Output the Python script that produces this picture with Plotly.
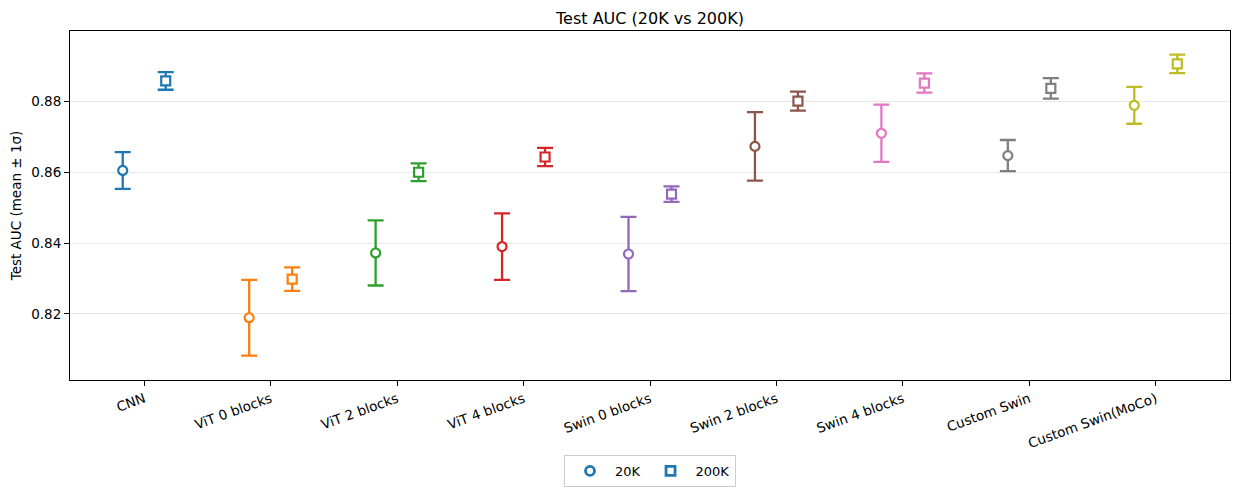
import plotly.graph_objects as go

categories = ["CNN", "ViT 0 blocks", "ViT 2 blocks", "ViT 4 blocks", "Swin 0 blocks",
              "Swin 2 blocks", "Swin 4 blocks", "Custom Swin", "Custom Swin(MoCo)"]
mean_20k = [0.8605, 0.8189, 0.8372, 0.8390, 0.8369, 0.8673, 0.8710, 0.8647, 0.8789]
std_20k = [0.0052, 0.0107, 0.0092, 0.0094, 0.0105, 0.0097, 0.0081, 0.0044, 0.0052]
mean_200k = [0.8858, 0.8298, 0.8600, 0.8643, 0.8538, 0.8801, 0.8852, 0.8837, 0.8906]
std_200k = [0.0025, 0.0033, 0.0025, 0.0026, 0.0022, 0.0027, 0.0027, 0.0029, 0.0026]
colors = ["#1f77b4", "#ff7f0e", "#2ca02c", "#d62728", "#9467bd",
          "#8c564b", "#e377c2", "#7f7f7f", "#bcbd22"]
series = ["20K", "200K"]

offset = 0.17
FONT = "DejaVu Sans"
# the page body has an 8px margin on every side, so the figure is 16px smaller
W, H = 1224, 481

fig = go.Figure()
for i, cat in enumerate(categories):
    for m, s, sym, dx in [(mean_20k, std_20k, "circle", -offset), (mean_200k, std_200k, "square", offset)]:
        fig.add_trace(go.Scatter(
            x=[i + dx], y=[m[i]], mode="markers", showlegend=False,
            marker=dict(symbol=sym, size=9, color="white", line=dict(color=colors[i], width=2.2)),
            error_y=dict(type="data", array=[s[i]], visible=True, color=colors[i],
                         thickness=2.3, width=8),
            hoverinfo="skip",
        ))

for name, sym in zip(series, ["circle", "square"]):
    fig.add_trace(go.Scatter(
        x=[None], y=[None], mode="markers", name=name,
        marker=dict(symbol=sym, size=9, color="white", line=dict(color=colors[0], width=2.8)),
    ))

fig.update_layout(
    width=W, height=H,
    margin=dict(l=62, r=2, t=23, b=109),
    paper_bgcolor="white", plot_bgcolor="white",
    font=dict(family=FONT, size=13.5, color="black"),
    title=dict(text="Test AUC (20K vs 200K)", x=(62 + 0.5 * (W - 64)) / W, xanchor="center",
               y=1 - 10 / H, yanchor="middle", yref="container",
               font=dict(size=16, family=FONT, color="black")),
    legend=dict(orientation="h", x=0.5, xanchor="center", xref="paper",
                y=2 / H, yanchor="bottom", yref="container",
                bordercolor="#cccccc", borderwidth=1, font=dict(size=13, family=FONT),
                itemwidth=40, tracegroupgap=20),
    showlegend=True,
)
fig.update_xaxes(
    range=[-0.587, 8.587], tickmode="array", tickvals=list(range(len(categories))),
    ticktext=categories, tickangle=-20, showgrid=False, zeroline=False,
    showline=True, linecolor="black", linewidth=1, mirror=True,
    ticks="outside", ticklen=5, tickcolor="black", automargin=False,
)
fig.update_yaxes(
    range=[0.8013, 0.8999], tickmode="array", tickvals=[0.82, 0.84, 0.86, 0.88],
    ticktext=["0.82", "0.84", "0.86", "0.88"],
    showgrid=True, gridcolor="#e8e8e8", gridwidth=1, zeroline=False,
    showline=True, linecolor="black", linewidth=1, mirror=True,
    ticks="outside", ticklen=5, tickcolor="black", automargin=False,
    title=dict(text="Test AUC (mean ± 1σ)", font=dict(size=13.5, family=FONT), standoff=8),
)

fig.write_html("out.html")
